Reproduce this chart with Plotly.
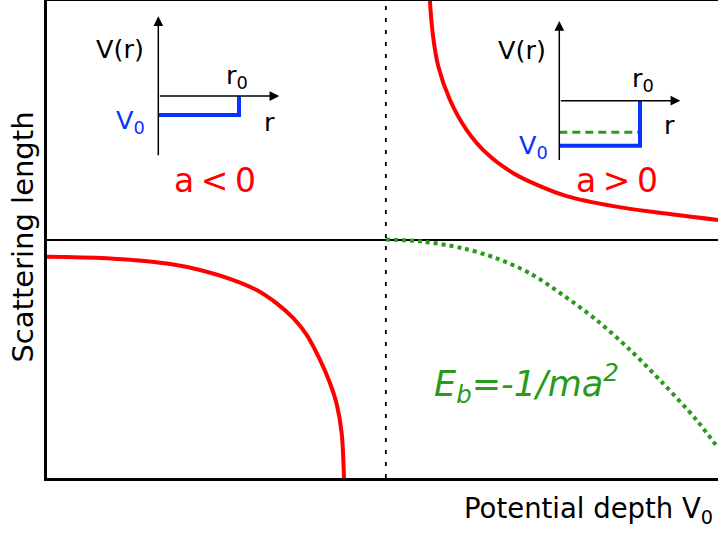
import plotly.graph_objects as go

# ---- main curves (x: potential depth, arbitrary units; y: scattering length) ----
x_crit = 5.05
left_x = [0.0, 0.89, 1.882, 2.28, 2.776, 3.125, 3.423, 3.671, 3.87, 4.069, 4.218, 4.317, 4.392, 4.426, 4.434]
left_y = [-0.072, -0.079, -0.105, -0.128, -0.170, -0.212, -0.268, -0.330, -0.400, -0.505, -0.603, -0.690, -0.813, -0.995, -1.05]
right_x = [5.70, 5.748, 5.832, 6.006, 6.255, 6.553, 6.949, 7.347, 7.745, 8.44, 9.185, 10.0]
right_y = [1.03, 0.865, 0.725, 0.585, 0.459, 0.361, 0.278, 0.224, 0.182, 0.140, 0.110, 0.082]
eb_x = [5.05, 5.61, 6.20, 6.70, 7.20, 7.69, 8.19, 8.69, 9.18, 9.68, 10.0]
eb_y = [0.0, -0.009, -0.037, -0.079, -0.142, -0.233, -0.338, -0.463, -0.603, -0.757, -0.874]

# ---- inset schematics (r in units of r0, V arbitrary) ----
well_r = [0.0, 1.0, 1.0]
well1_V = [-1.0, -1.0, 0.0]
well2_V = [-2.37, -2.37, 0.0]
bound_r = [0.0, 1.0]
bound_V = [-1.66, -1.66]
r_axis_end = 1.5
V_axis_lo, V_axis_hi = -3.2, 4.2

RED = "#ff0000"
GREEN = "#2a9a1a"
BLUE = "#0a32ff"
FONT = "DejaVu Sans"

fig = go.Figure()
fig.add_trace(go.Scatter(x=left_x, y=left_y, mode="lines", line=dict(color=RED, width=4, shape="spline", smoothing=1.0),
                         showlegend=False, hoverinfo="skip"))
fig.add_trace(go.Scatter(x=right_x, y=right_y, mode="lines", line=dict(color=RED, width=4, shape="spline", smoothing=1.0),
                         showlegend=False, hoverinfo="skip"))
fig.add_trace(go.Scatter(x=eb_x, y=eb_y, mode="lines", line=dict(color=GREEN, width=4, dash="4px,4px", shape="spline", smoothing=0.9),
                         showlegend=False, hoverinfo="skip"))
fig.add_trace(go.Scatter(x=[x_crit, x_crit], y=[-1, 1], mode="lines", line=dict(color="black", width=1.8, dash="4px,8px"),
                         showlegend=False, hoverinfo="skip"))

# inset traces
fig.add_trace(go.Scatter(x=well_r, y=well1_V, xaxis="x2", yaxis="y2", mode="lines",
                         line=dict(color=BLUE, width=4), showlegend=False, hoverinfo="skip"))
fig.add_trace(go.Scatter(x=bound_r, y=bound_V, xaxis="x3", yaxis="y3", mode="lines",
                         line=dict(color=GREEN, width=3, dash="8px,5px"), showlegend=False, hoverinfo="skip"))
fig.add_trace(go.Scatter(x=well_r, y=well2_V, xaxis="x3", yaxis="y3", mode="lines",
                         line=dict(color=BLUE, width=4), showlegend=False, hoverinfo="skip"))

annotations = []
for xa, ya in (("x2", "y2"), ("x3", "y3")):
    annotations.append(dict(x=0, y=V_axis_hi, ax=0, ay=V_axis_lo, xref=xa, yref=ya, axref=xa, ayref=ya,
                            text="", showarrow=True, arrowhead=2, arrowsize=1.3, arrowwidth=1.5, arrowcolor="black"))
    annotations.append(dict(x=r_axis_end, y=0, ax=0, ay=0, xref=xa, yref=ya, axref=xa, ayref=ya,
                            text="", showarrow=True, arrowhead=2, arrowsize=1.3, arrowwidth=1.5, arrowcolor="black"))

inset_text = [
    ("x2", "y2", -0.47, 2.5, "V(r)", "black"),
    ("x2", "y2", 0.97, 1.05, "r<sub>0</sub>", "black"),
    ("x2", "y2", 1.38, -1.35, "r", "black"),
    ("x2", "y2", -0.35, -1.35, "V<sub>0</sub>", BLUE),
    ("x3", "y3", -0.46, 2.67, "V(r)", "black"),
    ("x3", "y3", 1.04, 1.12, "r<sub>0</sub>", "black"),
    ("x3", "y3", 1.37, -1.28, "r", "black"),
    ("x3", "y3", -0.32, -2.42, "V<sub>0</sub>", BLUE),
]
for xa, ya, tx, ty, txt, col in inset_text:
    annotations.append(dict(x=tx, y=ty, xref=xa, yref=ya, text=txt, showarrow=False,
                            xanchor="center", yanchor="middle",
                            font=dict(family=FONT, size=25.5, color=col)))

annotations += [
    dict(x=2.50, y=0.249, xref="x", yref="y", text="a\u2009<\u20090", showarrow=False,
         xanchor="center", yanchor="middle", font=dict(family=FONT, size=33, color=RED)),
    dict(x=8.49, y=0.249, xref="x", yref="y", text="a\u2009>\u20090", showarrow=False,
         xanchor="center", yanchor="middle", font=dict(family=FONT, size=33, color=RED)),
    dict(x=7.15, y=-0.603, xref="x", yref="y", text="<i>E<sub>b</sub>=-1/ma<sup>2</sup></i>", showarrow=False,
         xanchor="center", yanchor="middle", font=dict(family=FONT, size=35, color=GREEN)),
    dict(x=0.996, y=-0.069, xref="paper", yref="paper", xanchor="right", yanchor="middle",
         text="Potential depth V<sub>0</sub>", showarrow=False, font=dict(family=FONT, size=27.5, color="black")),
    dict(x=-0.0358, y=0.506, xref="paper", yref="paper", textangle=-90, text="Scattering length",
         xanchor="center", yanchor="middle",
         showarrow=False, font=dict(family=FONT, size=29, color="black")),
]

inset_axis = dict(showgrid=False, zeroline=False, showticklabels=False, ticks="", showline=False, fixedrange=True)
fig.update_layout(
    width=718, height=534,
    margin=dict(l=47, r=0, t=1, b=56, autoexpand=False),
    paper_bgcolor="white", plot_bgcolor="rgba(0,0,0,0)",
    xaxis=dict(range=[0, 10], showgrid=False, zeroline=False, showticklabels=False, ticks="",
               showline=True, linecolor="black", linewidth=2.5, mirror=True),
    yaxis=dict(range=[-1, 1], showgrid=False, zeroline=True, zerolinecolor="black", zerolinewidth=1.5,
               showticklabels=False, ticks="", showline=True, linecolor="black", linewidth=2.5),
    xaxis2=dict(domain=[0.0757, 0.3763], range=[-0.75, 1.75], anchor="y2", **inset_axis),
    yaxis2=dict(domain=[0.6415, 1.0], range=[-4, 5], anchor="x2", **inset_axis),
    xaxis3=dict(domain=[0.6733, 0.9739], range=[-0.75, 1.75], anchor="y3", **inset_axis),
    yaxis3=dict(domain=[0.6317, 0.99], range=[-4, 5], anchor="x3", **inset_axis),
    annotations=annotations,
    showlegend=False,
)

fig.write_html("out.html", config={"displayModeBar": False},
               post_script="document.body.style.margin='0px';document.body.style.overflow='hidden';")
